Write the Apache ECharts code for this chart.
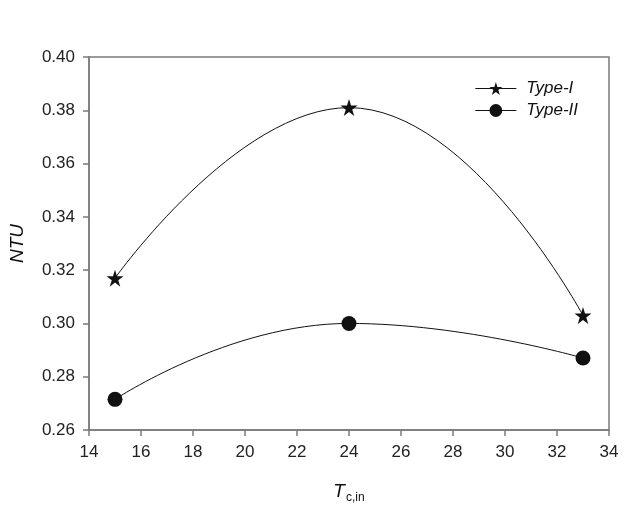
<!DOCTYPE html>
<html>
<head>
<meta charset="utf-8">
<script src="https://cdn.jsdelivr.net/npm/echarts@6/dist/echarts.min.js"></script>
<style>
  html, body { margin: 0; padding: 0; background: #fff; }
  #chart { width: 640px; height: 512px; }
</style>
</head>
<body>
<div id="chart"></div>
<script type="text/javascript">
// 数据
var tcIn = [15, 24, 33];
var typeI = [0.317, 0.381, 0.303];
var typeII = [0.2715, 0.300, 0.287];
var xTicks = [14, 34, 2];
var yTicks = [0.26, 0.40, 0.02];

var starPath = 'path://M50 0 L61.23 34.55 L97.55 34.55 L68.17 55.9 L79.39 90.45 L50 69.1 L20.61 90.45 L31.83 55.9 L2.45 34.55 L38.77 34.55 Z';

function pairs(xs, ys) {
    return xs.map(function (x, i) { return [x, ys[i]]; });
}

var axisColor = '#7a7a7a';
var font = 'Liberation Sans, Arial, sans-serif';

var myChart = echarts.init(document.getElementById('chart'));
myChart.setOption({
    animation: false,
    backgroundColor: '#fff',
    grid: {
        left: 89, right: 31, top: 57, bottom: 82,
        show: true, borderColor: axisColor, borderWidth: 1.5
    },
    legend: {
        right: 57, top: 75,
        orient: 'vertical',
        itemWidth: 41, itemHeight: 16, itemGap: 5,
        lineStyle: { width: 1 },
        textStyle: { fontFamily: font, fontSize: 17, fontStyle: 'italic', color: '#111', padding: [0, 0, 0, 5] },
        data: ['Type-I', 'Type-II']
    },
    xAxis: {
        type: 'value',
        min: xTicks[0], max: xTicks[1], interval: xTicks[2],
        name: '{t|T}{s|c,in}',
        nameLocation: 'middle',
        nameGap: 50,
        nameTextStyle: {
            rich: {
                t: { fontFamily: font, fontSize: 19, fontStyle: 'italic', color: '#111' },
                s: { fontFamily: font, fontSize: 12, color: '#111', verticalAlign: 'bottom', padding: [12, 0, 0, 1] }
            }
        },
        axisLine: { lineStyle: { color: axisColor, width: 1.5 } },
        axisTick: { inside: false, length: 6, lineStyle: { color: axisColor, width: 1.5 } },
        axisLabel: { fontFamily: font, fontSize: 17, color: '#222', margin: 14 },
        splitLine: { show: false }
    },
    yAxis: {
        type: 'value',
        min: yTicks[0], max: yTicks[1], interval: yTicks[2],
        name: 'NTU',
        nameLocation: 'middle',
        nameGap: 62,
        nameRotate: 90,
        nameTextStyle: { fontFamily: font, fontSize: 19, fontStyle: 'italic', color: '#111' },
        axisLine: { lineStyle: { color: axisColor, width: 1.5 } },
        axisTick: { inside: false, length: 6, lineStyle: { color: axisColor, width: 1.5 } },
        axisLabel: {
            fontFamily: font, fontSize: 17, color: '#222', margin: 14,
            formatter: function (v) { return v.toFixed(2); }
        },
        splitLine: { show: false }
    },
    series: [
        {
            name: 'Type-I',
            type: 'line',
            smooth: 0.5,
            data: pairs(tcIn, typeI),
            symbol: starPath,
            symbolSize: 17,
            lineStyle: { color: '#111', width: 1 },
            itemStyle: { color: '#111', borderWidth: 0 }
        },
        {
            name: 'Type-II',
            type: 'line',
            smooth: 0.5,
            data: pairs(tcIn, typeII),
            symbol: 'circle',
            symbolSize: 15,
            lineStyle: { color: '#111', width: 1 },
            itemStyle: { color: '#111', borderWidth: 0 }
        }
    ]
});
</script>
</body>
</html>
